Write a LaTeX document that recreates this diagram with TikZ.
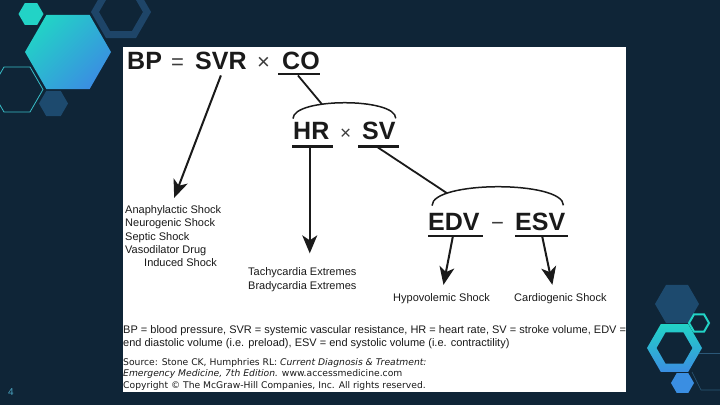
\documentclass[tikz,border=0pt]{standalone}
\usepackage{fontspec}
\setmainfont{Liberation Sans}
\newfontfamily\srcfont{DejaVu Sans}
\usetikzlibrary{arrows.meta,calc}
\definecolor{bgnavy}{HTML}{0F2537}
\definecolor{hexteal}{HTML}{22D3C6}
\definecolor{hexblue}{HTML}{3A8EE2}
\definecolor{hexdark}{HTML}{1D4A6E}
\definecolor{hexline}{HTML}{1E4568}
\definecolor{hexthin}{HTML}{38BCC6}
\definecolor{faint}{HTML}{2B5878}
\definecolor{ink}{HTML}{1A1A1A}
\definecolor{pagenum}{HTML}{4AA3C0}
\newcommand{\hexp}[1]{(0:#1) -- (60:#1) -- (120:#1) -- (180:#1) -- (240:#1) -- (300:#1) -- cycle}
\begin{document}
\begin{tikzpicture}[x=1pt,y=-1pt,
  big/.style={font=\fontsize{25}{30}\selectfont\bfseries, text=ink, inner sep=0pt, anchor=base west},
  oper/.style={font=\fontsize{22}{26}\selectfont, text=ink!85, inner sep=0pt, anchor=base west},
  lbl/.style={font=\fontsize{11}{13}\selectfont, text=ink, inner sep=0pt, anchor=base west},
  note/.style={font=\fontsize{11}{13}\selectfont, text=ink, inner sep=0pt, anchor=base west},
  src/.style={font=\srcfont\fontsize{9.2}{11}\selectfont, text=ink, inner sep=0pt, anchor=base west},
  ul/.style={line width=2.6pt, ink},
  conn/.style={line width=1.8pt, ink},
  arcline/.style={line width=1.5pt, ink},
  arr/.style={line width=2pt, ink, -{Stealth[length=18pt,width=15pt,inset=5pt]}}]
\useasboundingbox (0,0) rectangle (720,405);
\fill[bgnavy] (0,0) rectangle (720,405);
% top-left hexagons
\fill[hexteal, shift={(31,14)}] \hexp{12.5};
\draw[hexline, line width=7pt, shift={(121,12)}] \hexp{26};
\draw[hexthin, line width=0.8pt, shift={(17,89.5)}] \hexp{26};
\fill[hexdark, shift={(53.5,103.5)}] \hexp{14.5};
\shade[shift={(68,52)}, top color=hexteal, bottom color=hexblue, shading angle=45] \hexp{43};
% bottom-right hexagons
\fill[hexdark, shift={(677,304)}] \hexp{22};
\shade[shift={(674.5,348)}, top color=hexteal, bottom color=hexblue, even odd rule] \hexp{27.5} \hexp{18};
\draw[hexteal, line width=2pt, shift={(699,323)}] \hexp{10};
\fill[hexblue, shift={(682.5,383)}] \hexp{11.5};
\draw[faint, line width=0.6pt] (699,353) -- (720,353);
\draw[faint, line width=0.6pt] (692,372) -- (701,390) -- (720,390);
% page number
\node[font=\fontsize{10}{12}\selectfont, text=pagenum, inner sep=0pt, anchor=base west] (pnum) at (8,395) {4};
% white panel
\fill[white] (122.5,47) rectangle (626,392);
% equations
\node[big] (BP) at (127,69) {BP};
\node[oper] (eq1) at (171,69) {=};
\node[big] (SVR) at (195,69) {SVR};
\node[oper] (x1) at (257,69) {×};
\node[big] (CO) at (282,69) {CO};
\node[big] (HR) at (293,139) {HR};
\node[oper, font=\fontsize{19}{22}\selectfont] (x2) at (340,139) {×};
\node[big] (SV) at (362,139) {SV};
\node[big] (EDV) at (428,230) {EDV};
\node[oper] (minus) at (491,230) {−};
\node[big] (ESV) at (515,230) {ESV};
% underlines
\draw[ul] ([xshift=-4pt,yshift=-5pt]CO.base west) -- ([yshift=-5pt]CO.base east);
\draw[ul] ([xshift=-1pt,yshift=-7.5pt]HR.base west) -- ([xshift=3pt,yshift=-7.5pt]HR.base east);
\draw[ul] ([xshift=-4pt,yshift=-7.5pt]SV.base west) -- ([xshift=3pt,yshift=-7.5pt]SV.base east);
\draw[ul] ([yshift=-6pt]EDV.base west) -- ([xshift=3pt,yshift=-6pt]EDV.base east);
\draw[ul] ([yshift=-6pt]ESV.base west) -- ([xshift=3pt,yshift=-6pt]ESV.base east);
% labels
\node[lbl] (anaph) at (125,213) {Anaphylactic Shock};
\node[lbl] (neuro) at (125,226.5) {Neurogenic Shock};
\node[lbl] (septic) at (125,240) {Septic Shock};
\node[lbl] (vaso) at (125,253) {Vasodilator Drug};
\node[lbl] (induced) at (144,266.5) {Induced Shock};
\node[lbl] (tachy) at (248,275.5) {Tachycardia Extremes};
\node[lbl] (brady) at (248,289) {Bradycardia Extremes};
\node[lbl] (hypo) at (393,301) {Hypovolemic Shock};
\node[lbl] (cardio) at (514,301) {Cardiogenic Shock};
% arcs and connectors
\draw[arcline] ([yshift=3pt]HR.north west) .. controls +(0,-21) and +(0,-21) .. ([yshift=3pt]SV.north east) coordinate[pos=0.35] (arc1);
\draw[conn] ([xshift=-3pt,yshift=-6pt]CO.south) -- (arc1);
\draw[arcline] ([xshift=4pt,yshift=7pt]EDV.north west) .. controls +(0,-25) and +(0,-25) .. ([xshift=-2pt,yshift=7pt]ESV.north east) coordinate[pos=0.21] (arc2);
\draw[conn] ([xshift=-1pt,yshift=-8pt]SV.south) -- (arc2);
% arrows
\draw[arr] ([yshift=-6pt]SVR.south) -- ($(anaph.north)+(1,-7)$);
\draw[arr] ([xshift=-1.5pt,yshift=-8pt]HR.south) -- ($(tachy.north -| HR.south)+(-1.5,-14)$);
\draw[arr] ([xshift=-1pt,yshift=-6pt]EDV.south) -- ($(hypo.north)+(2,-8)$);
\draw[arr] ([xshift=2pt,yshift=-6pt]ESV.south) -- ($(cardio.north)+(-8,-8)$);
% footnotes
\node[note] (fn1) at (123,333) {BP = blood pressure, SVR = systemic vascular resistance, HR = heart rate, SV = stroke volume, EDV =};
\node[note] (fn2) at (123,346.5) {end diastolic volume (i.e. preload), ESV = end systolic volume (i.e. contractility)};
\node[src] (src1) at (123,365) {Source: Stone CK, Humphries RL: \textit{Current Diagnosis \& Treatment:}};
\node[src] (src2) at (123,376.5) {\textit{Emergency Medicine, 7th Edition.} www.accessmedicine.com};
\node[src] (src3) at (123,388) {Copyright © The McGraw-Hill Companies, Inc. All rights reserved.};
\end{tikzpicture}
\end{document}
